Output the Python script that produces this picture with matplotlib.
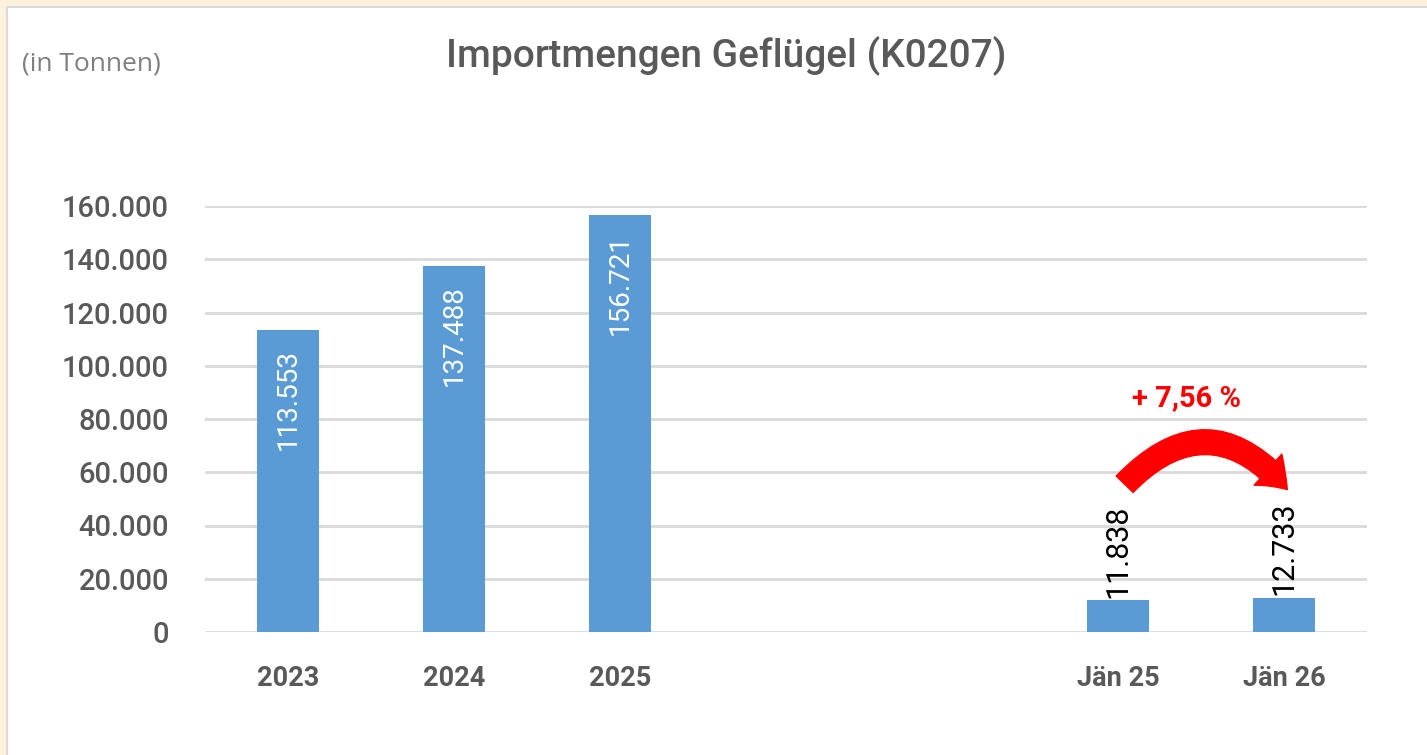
import matplotlib
matplotlib.use("Agg")
import matplotlib.pyplot as plt
from matplotlib.patches import FancyArrowPatch, Rectangle

categories = ["2023", "2024", "2025", "", "", "Jän 25", "Jän 26"]
values = [113553, 137488, 156721, None, None, 11838, 12733]
value_labels = ["113.553", "137.488", "156.721", "", "", "11.838", "12.733"]
inside_labels = [True, True, True, False, False, False, False]
yticks = [0, 20000, 40000, 60000, 80000, 100000, 120000, 140000, 160000]
ytick_labels = ["0", "20.000", "40.000", "60.000", "80.000", "100.000", "120.000", "140.000", "160.000"]
title = "Importmengen Geflügel (K0207)"
unit = "(in Tonnen)"
change_label = "+ 7,56 %"

BAR = "#5B9BD5"
GRAY = "#595959"
GRID = "#D9D9D9"

plt.rcParams['font.family'] = ['Roboto', 'DejaVu Sans']

fig = plt.figure(figsize=(14.27, 7.55), dpi=100)
fig.patch.set_facecolor("white")
# beige frame on top and left with gray line
fig.patches.append(Rectangle((0, 0), 1, 1, transform=fig.transFigure, facecolor="#FDF0DC", edgecolor="none", zorder=-10))
fig.patches.append(Rectangle((6/1427, 0), 1, 1 - 6/755, transform=fig.transFigure, facecolor="#D9D9D9", edgecolor="none", zorder=-9))
fig.patches.append(Rectangle((8/1427, 0), 1, 1 - 8/755, transform=fig.transFigure, facecolor="white", edgecolor="none", zorder=-8))

ax = fig.add_axes([205/1427, 1 - 632/755, (1367 - 205)/1427, (632 - 206)/755])
ax.set_facecolor("none")

xs = list(range(len(categories)))
bx = [x for x, v in zip(xs, values) if v is not None]
bv = [v for v in values if v is not None]
ax.bar(bx, bv, width=0.375, color=BAR, zorder=3)

ax.set_xlim(-0.5, len(categories) - 0.5)
ax.set_ylim(0, 160000)
ax.set_yticks(yticks)
ax.set_yticklabels(ytick_labels)
ax.set_xticks(xs)
ax.set_xticklabels(categories)
for s in ax.spines.values():
    s.set_visible(False)
ax.grid(axis='y', color=GRID, linewidth=2, zorder=0)
ax.tick_params(axis='both', length=0)
ax.tick_params(axis='y', labelsize=21, labelcolor=GRAY, pad=26)
ax.tick_params(axis='x', labelsize=19.5, labelcolor=GRAY, pad=24)
for lab in ax.get_yticklabels():
    lab.set_fontweight('medium')
for lab in ax.get_xticklabels():
    lab.set_fontweight('bold')

for x, v, lab, inside in zip(xs, values, value_labels, inside_labels):
    if v is None:
        continue
    if inside:
        ax.annotate(lab, (x, v), xytext=(0, -14), textcoords='offset points',
                    rotation=90, ha='center', va='top', fontsize=20, color='white', zorder=4)
    else:
        ax.annotate(lab, (x, v), xytext=(0, 2), textcoords='offset points',
                    rotation=90, ha='center', va='bottom', fontsize=22, color='black', zorder=4)

arrow = FancyArrowPatch((5.04, 55500), (6.02, 53500), connectionstyle="arc3,rad=-0.55",
                        arrowstyle="simple,head_width=30,head_length=20,tail_width=17",
                        color="#FF0000", mutation_scale=1, zorder=5, shrinkA=0, shrinkB=0)
ax.add_patch(arrow)
ax.text(5.41, 88000, change_label, ha='center', va='center', fontsize=21,
        fontweight='bold', color="#FF0000")

fig.text(726/1427, 1 - 55/755, title, ha='center', va='center', fontsize=28,
         color=GRAY, fontweight='medium')
fig.text(22/1427, 1 - 64/755, unit, ha='left', va='center', fontsize=19,
         color="#7F7F7F", family=['Open Sans', 'DejaVu Sans'])

fig.savefig("out.png", dpi=100)
